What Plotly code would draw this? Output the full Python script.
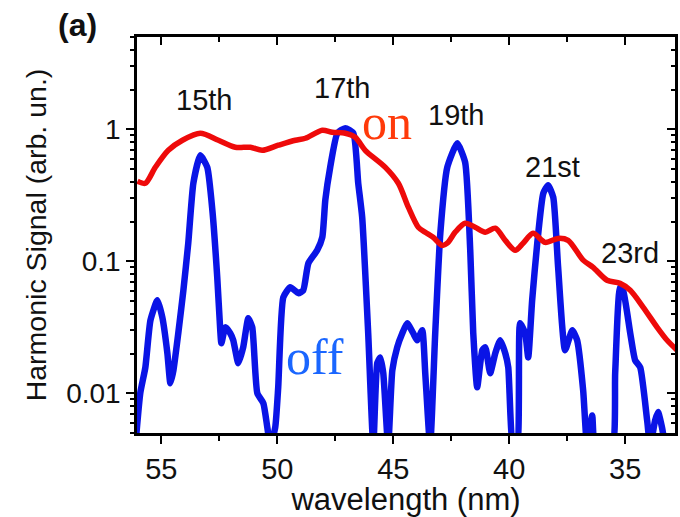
import math
import plotly.graph_objects as go

# "on" (red) curve
on_wl = [56.03, 55.69, 55.26, 54.70, 54.09, 53.32, 52.54, 51.81, 51.16, 50.65, 49.96, 49.22,
         48.79, 48.06, 47.63, 47.07, 46.64, 46.21, 45.34, 44.78, 44.35, 43.92, 43.62, 43.28,
         42.89, 42.67, 42.33, 41.90, 41.47, 41.03, 40.60, 40.17, 39.74, 39.40, 38.97, 38.45,
         37.89, 37.46, 36.81, 36.38, 35.78, 35.22, 34.78, 34.22, 33.62, 33.19, 32.76]
on_sig = [0.404, 0.390, 0.515, 0.693, 0.826, 0.933, 0.826, 0.731, 0.731, 0.693, 0.757, 0.826,
          0.855, 0.983, 0.949, 0.933, 0.870, 0.693, 0.515, 0.390, 0.257, 0.181, 0.166, 0.152,
          0.132, 0.137, 0.166, 0.194, 0.181, 0.166, 0.178, 0.144, 0.121, 0.137, 0.163, 0.139,
          0.149, 0.144, 0.102, 0.090, 0.0718, 0.068, 0.0603, 0.0448, 0.0316, 0.0252, 0.0212]

# "off" (blue) curve
off_wl = [56.12, 55.91, 55.69, 55.47, 55.17, 54.96, 54.74, 54.61, 54.48, 54.27, 54.05, 53.84,
          53.62, 53.32, 53.02, 52.80, 52.59, 52.46, 52.41, 52.24, 52.03, 51.90, 51.68, 51.47,
          51.25, 51.08, 50.86, 50.60, 50.43, 50.30, 50.09, 49.96, 49.74, 49.44, 49.09, 48.88,
          48.66, 48.28, 48.06, 47.93, 47.72, 47.41, 47.07, 46.72, 46.51, 46.34, 46.08, 45.86,
          45.69, 45.56, 45.43, 45.22, 45.04, 44.83, 44.61, 44.40, 44.14, 43.97, 43.75, 43.62,
          43.41, 43.19, 42.97, 42.67, 42.24, 41.90, 41.68, 41.55, 41.38, 41.16, 41.03, 40.82,
          40.60, 40.39, 40.17, 40.04, 39.83, 39.66, 39.53, 39.31, 39.18, 39.01, 38.79, 38.53,
          38.32, 38.10, 37.89, 37.59, 37.28, 37.07, 36.81, 36.64, 36.42, 36.29, 35.56, 35.43,
          35.22, 35.09, 34.78, 34.57, 34.35, 34.05, 33.92, 33.71, 33.58, 33.41, 33.28]
off_sig = [0.004, 0.010, 0.0157, 0.0357, 0.0507, 0.0377, 0.0201, 0.0119, 0.0149, 0.0285, 0.0603, 0.137,
           0.390, 0.635, 0.515, 0.243, 0.0757, 0.030, 0.0239, 0.0316, 0.0285, 0.0252, 0.0169, 0.0223,
           0.037, 0.0316, 0.010, 0.0084, 0.0055, 0.004, 0.0055, 0.0111, 0.0534, 0.0635, 0.0573, 0.0603,
           0.0966, 0.121, 0.152, 0.290, 0.515, 0.933, 1.02, 0.933, 0.390, 0.216, 0.0285, 0.004,
           0.0169, 0.0187, 0.0142, 0.004, 0.0149, 0.0223, 0.0285, 0.0339, 0.0285, 0.0252, 0.030, 0.0142,
           0.004, 0.0285, 0.163, 0.515, 0.783, 0.562, 0.121, 0.0285, 0.0111, 0.0212, 0.0223, 0.0142,
           0.0201, 0.0252, 0.0201, 0.0157, 0.004, 0.004, 0.0339, 0.0285, 0.0187, 0.0507, 0.137, 0.327,
           0.377, 0.305, 0.090, 0.0212, 0.030, 0.0252, 0.0105, 0.004, 0.0068, 0.004, 0.004, 0.0142,
           0.0635, 0.0603, 0.0285, 0.0178, 0.0157, 0.0062, 0.004, 0.0062, 0.0072, 0.0055, 0.004]

harmonic_labels = ["15th", "17th", "19th", "21st", "23rd"]
harmonic_wl = [53.15, 47.2, 42.3, 38.15, 34.8]
harmonic_sig = [1.66, 2.04, 1.28, 0.515, 0.115]

state_labels = ["on", "off"]
state_wl = [45.26, 48.36]
state_sig = [1.13, 0.0187]
state_colors = ["#ff3a0a", "#1a66ff"]

x_ticks = [55, 50, 45, 40, 35]
y_ticks = [0.01, 0.1, 1]
y_ticklabels = ["0.01", "0.1", "1"]

X_RANGE = [56.05, 32.85]
Y_RANGE = [-2.301, 0.699]

fig = go.Figure()
fig.add_trace(go.Scatter(x=off_wl, y=off_sig, mode="lines",
                         line=dict(color="#0a14e6", width=6.5, shape="spline", smoothing=0.5),
                         showlegend=False, hoverinfo="skip"))
fig.add_trace(go.Scatter(x=on_wl, y=on_sig, mode="lines",
                         line=dict(color="#ee0a0a", width=5.5, shape="spline", smoothing=0.8),
                         showlegend=False, hoverinfo="skip"))
# helper trace for mirrored (inside) ticks on top/right
fig.add_trace(go.Scatter(x=[X_RANGE[0]], y=[1], xaxis="x2", yaxis="y2", mode="markers",
                         marker=dict(opacity=0), showlegend=False, hoverinfo="skip"))

font = "Liberation Sans, Arial, sans-serif"
serif = "Liberation Serif, Times New Roman, serif"
for lab, xw, ys in zip(harmonic_labels, harmonic_wl, harmonic_sig):
    fig.add_annotation(x=xw, y=math.log10(ys), text=lab, showarrow=False, xref="x", yref="y",
                       font=dict(family=font, size=29, color="#111"))
for lab, xw, ys, c in zip(state_labels, state_wl, state_sig, state_colors):
    fig.add_annotation(x=xw, y=math.log10(ys), text=lab, showarrow=False, xref="x", yref="y",
                       font=dict(family=serif, size=50, color=c))
fig.add_annotation(xref="paper", yref="paper", x=-0.1115, y=1.03, text="<b>(a)</b>", showarrow=False,
                   xanchor="center", yanchor="middle", font=dict(family=font, size=32, color="#111"))

axis_common = dict(showgrid=False, zeroline=False, showline=True, linecolor="black", linewidth=2.5)
fig.update_layout(
    width=680, height=517,
    margin=dict(l=137, r=5, t=37, b=84),
    paper_bgcolor="white", plot_bgcolor="white",
    xaxis=dict(range=X_RANGE, tickvals=x_ticks, ticks="outside", ticklen=8, tickwidth=2,
               tickcolor="black", tickfont=dict(family=font, size=29, color="#111"),
               title=dict(text="wavelength (nm)", font=dict(family=font, size=31, color="#111"), standoff=4),
               minor=dict(dtick=2.5, ticks="outside", ticklen=5, tickwidth=2, tickcolor="black"),
               **axis_common),
    yaxis=dict(type="log", range=Y_RANGE, tickvals=y_ticks, ticktext=y_ticklabels, ticks="outside",
               ticklen=8, tickwidth=2, tickcolor="black",
               tickfont=dict(family=font, size=28, color="#111"),
               title=dict(text="Harmonic Signal (arb. un.)", font=dict(family=font, size=28.5, color="#111"),
                          standoff=12),
               minor=dict(dtick="D1", ticks="outside", ticklen=4, tickwidth=2, tickcolor="black"),
               **axis_common),
    xaxis2=dict(overlaying="x", side="top", range=X_RANGE, tickvals=x_ticks, ticks="inside", ticklen=8,
                tickwidth=2, tickcolor="black", showticklabels=False,
                minor=dict(dtick=2.5, ticks="inside", ticklen=5, tickwidth=2, tickcolor="black"),
                **axis_common),
    yaxis2=dict(overlaying="y", side="right", type="log", range=Y_RANGE, tickvals=y_ticks, ticks="inside",
                ticklen=8, tickwidth=2, tickcolor="black", showticklabels=False,
                minor=dict(dtick="D1", ticks="inside", ticklen=4, tickwidth=2, tickcolor="black"),
                **axis_common),
)

fig.write_html("out.html")
